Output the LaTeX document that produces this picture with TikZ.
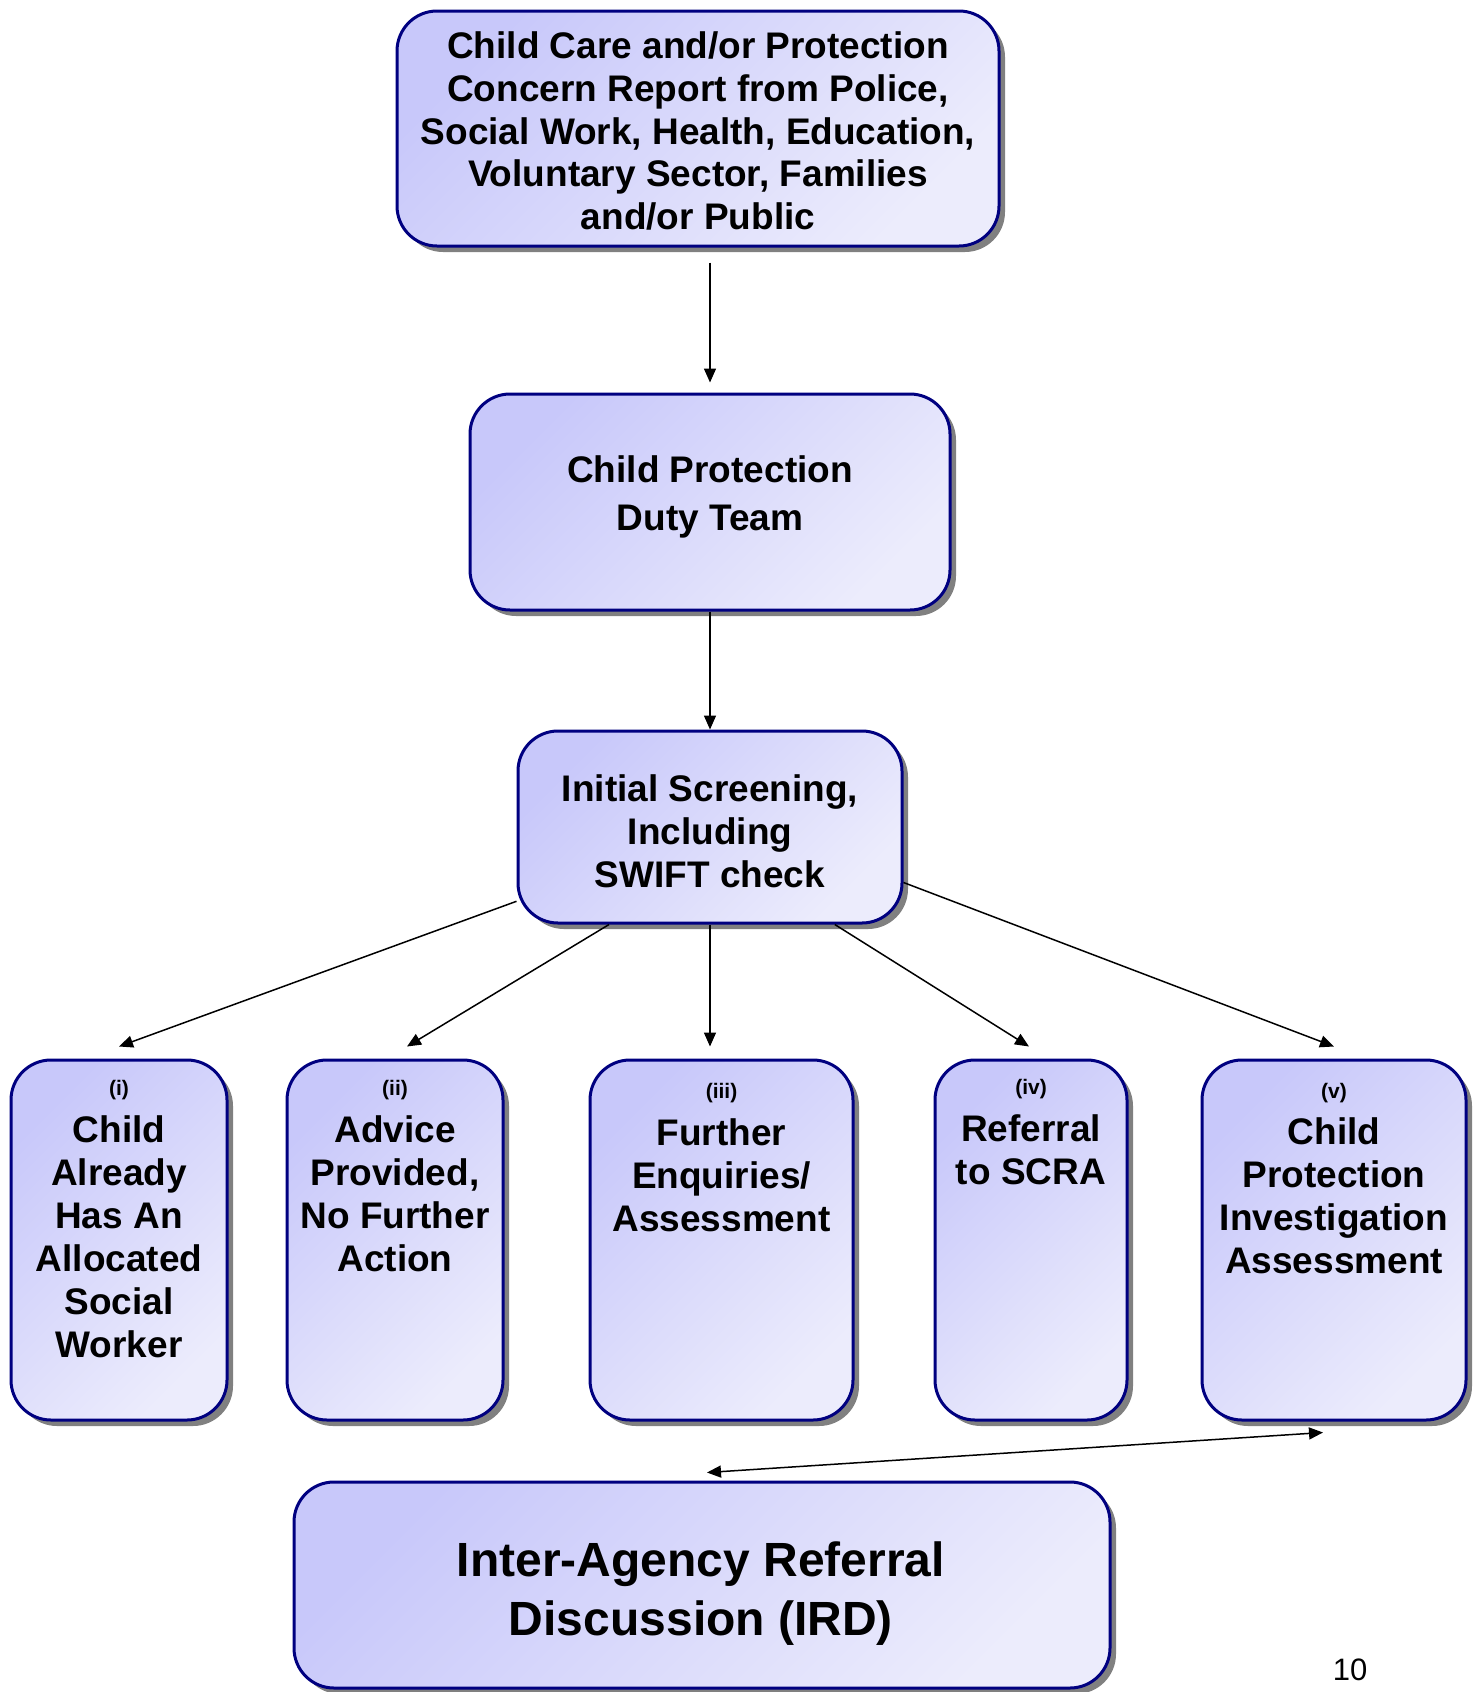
\documentclass[tikz,border=0pt]{standalone}
\usepackage{fontspec}
\setmainfont{Liberation Sans}
\usetikzlibrary{shadows,arrows.meta,calc}
\definecolor{navy}{RGB}{0,0,128}
\definecolor{boxA}{RGB}{200,200,250}
\definecolor{boxB}{RGB}{236,236,252}
\tikzset{
  box/.style={draw=navy, line width=1.5pt, rounded corners=20pt,
    top color=boxA, bottom color=boxB, shading angle=45,
    drop shadow={shadow xshift=3pt, shadow yshift=-3pt, fill=black!50, opacity=1},
    inner sep=0pt},
  txt/.style={inner sep=0pt, align=center, font=\bfseries\fontsize{18.5}{21.5}\selectfont},
  lab/.style={inner sep=0pt, font=\bfseries\fontsize{10.5}{12}\selectfont},
  arr/.style={-{Triangle[length=7pt,width=6pt]}, line width=0.75pt},
  arrb/.style={{Triangle[length=7pt,width=6pt]}-{Triangle[length=7pt,width=6pt]}, line width=0.75pt}
}
\begin{document}
\begin{tikzpicture}[x=0.5pt,y=-0.5pt]
\useasboundingbox (0,0) rectangle (1480,1692);
% boxes
\node[box, minimum width=301pt, minimum height=117.5pt] (b1) at (698,128.5) {};
\node[box, minimum width=240pt, minimum height=108pt] (b2) at (710,502) {};
\node[box, minimum width=192pt, minimum height=96pt] (b3) at (710,827) {};
\node[box, minimum width=108pt, minimum height=180pt] (bi) at (119,1240) {};
\node[box, minimum width=108pt, minimum height=180pt] (bii) at (395,1240) {};
\node[box, minimum width=131.5pt, minimum height=180pt] (biii) at (721.5,1240) {};
\node[box, minimum width=96pt, minimum height=180pt] (biv) at (1031,1240) {};
\node[box, minimum width=132pt, minimum height=180pt] (bv) at (1334,1240) {};
\node[box, minimum width=408pt, minimum height=103pt] (ird) at (702,1585) {};
% texts
\node[txt, font=\bfseries\fontsize{18.5}{21.35}\selectfont] (t1) at (698,131) {Child Care and/or Protection\\Concern Report from Police,\\Social Work, Health, Education,\\Voluntary Sector, Families\\and/or Public};
\node[txt, font=\bfseries\fontsize{18.5}{24}\selectfont] (t2) at (710,497) {Child Protection\\Duty Team};
\node[txt] (t3) at (710,831) {Initial Screening,\\Including\\SWIFT check};
\node[lab] (li) at (119,1090) {(i)};
\node[txt] (ti) at (119,1237) {Child\\Already\\Has An\\Allocated\\Social\\Worker};
\node[lab] (lii) at (395,1090) {(ii)};
\node[txt] (tii) at (395,1194) {Advice\\Provided,\\No Further\\Action};
\node[lab] (liii) at (721.5,1093) {(iii)};
\node[txt] (tiii) at (721.5,1175) {Further\\Enquiries/\\Assessment};
\node[lab] (liv) at (1031,1089) {(iv)};
\node[txt] (tiv) at (1031,1150) {Referral\\to SCRA};
\node[lab] (lv) at (1334,1093) {(v)};
\node[txt] (tv) at (1334,1196) {Child\\Protection\\Investigation\\Assessment};
\node[txt, font=\bfseries\fontsize{24}{29.5}\selectfont] (tird) at (701,1594) {Inter-Agency Referral\\Discussion (IRD)};
\node[inner sep=0pt, font=\fontsize{15.5}{18}\selectfont] (pg) at (1350,1670) {10};
% connectors
\draw[arr, shorten >=5pt] ($(b2.north |- b1.south)+(0,15)$) -- (b2.north);
\draw[arr] (b2.south) -- (b3.north);
\draw[arr] (b3.201) -- ($(bi.north)+(0,-12)$);
\draw[arr] (b3.224) -- ($(bii.north)+(12,-12)$);
\draw[arr] (b3.south) -- ($(b3.south |- biii.north)+(0,-12)$);
\draw[arr] (b3.-38) -- ($(biv.north)+(-2,-12)$);
\draw[arr] (b3.-16) -- ($(bv.north)+(0,-12)$);
\draw[arrb] ($(bv.south)+(-11,11)$) -- ($(ird.north)+(5,-8)$);
\end{tikzpicture}
\end{document}
